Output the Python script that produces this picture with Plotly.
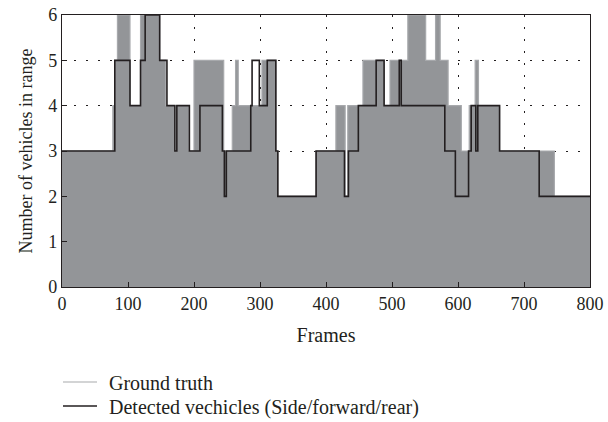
import plotly.graph_objects as go

# Ground truth (step values, value holds from frame until next frame)
gt_frames = [0, 77, 80, 84, 103, 119, 148, 157, 171, 174, 192, 200, 245, 258, 263, 267,
             303, 324, 327, 385, 415, 429, 433, 456, 488, 497, 524, 551, 566, 573,
             585, 605, 617, 626, 631, 663, 746, 800]
gt_vals = [3, 4, 5, 6, 4, 6, 5, 4, 3, 4, 3, 5, 3, 4, 5, 4,
           5, 3, 2, 3, 4, 2, 4, 5, 4, 5, 6, 5, 6, 5,
           4, 3, 4, 5, 4, 3, 2, 2]

# Detected vehicles
det_frames = [0, 80, 103, 119, 126, 148, 159, 171, 174, 193, 209, 243, 246, 249, 286, 288,
              299, 311, 324, 327, 385, 428, 434, 449, 476, 488, 511, 514, 580, 596,
              616, 620, 627, 630, 663, 723, 800]
det_vals = [3, 5, 4, 5, 6, 5, 4, 3, 4, 3, 4, 3, 2, 3, 4, 5,
            4, 5, 3, 2, 3, 2, 3, 4, 5, 4, 5, 4, 3, 2,
            3, 4, 3, 4, 3, 2, 2]

series_names = ["Ground truth", "Detected vechicles (Side/forward/rear)"]

x_ticks = [0, 100, 200, 300, 400, 500, 600, 700, 800]
y_ticks = [0, 1, 2, 3, 4, 5, 6]

FONT = "Liberation Serif"
INK = "#231f20"
GT_LINE = "#a7a9ac"

fig = go.Figure()
fig.add_trace(go.Scatter(
    x=gt_frames, y=gt_vals, mode="lines", line_shape="hv",
    line=dict(color=GT_LINE, width=1.2),
    fill="tozeroy", fillcolor="#939598",
    showlegend=False, name=series_names[0]))
fig.add_trace(go.Scatter(
    x=det_frames, y=det_vals, mode="lines", line_shape="hv",
    line=dict(color=INK, width=1.6),
    showlegend=False, name=series_names[1]))

axis_common = dict(
    showline=True, linecolor=INK, linewidth=1.2, mirror=True,
    ticks="inside", ticklen=5, tickcolor=INK,
    showgrid=True, gridcolor=INK, gridwidth=1, griddash="1.5px,10.5px",
    zeroline=False,
    tickfont=dict(family=FONT, size=18, color=INK),
)

fig.update_xaxes(range=[0, 800], tickvals=x_ticks,
                 title=dict(text="Frames", font=dict(family=FONT, size=20, color=INK), standoff=15),
                 **axis_common)
fig.update_yaxes(range=[0, 6], tickvals=y_ticks,
                 title=dict(text="Number of vehicles in range", font=dict(family=FONT, size=18, color=INK), standoff=10),
                 **axis_common)

# Manual legend below the plot (paper coordinates)
PLOT_L, PLOT_W, PLOT_B, PLOT_H = 62, 528, 287, 272
def px_x(px):
    return (px - PLOT_L) / PLOT_W
def px_y(py):
    return (PLOT_B - py) / PLOT_H

legend_rows = [(series_names[0], GT_LINE, 1.2, 382), (series_names[1], INK, 1.6, 406)]
for name, color, width, py in legend_rows:
    fig.add_shape(type="line", xref="paper", yref="paper",
                  x0=px_x(63), x1=px_x(97), y0=px_y(py), y1=px_y(py),
                  line=dict(color=color, width=width))
    fig.add_annotation(xref="paper", yref="paper", x=px_x(107), y=px_y(py + 1),
                       xanchor="left", yanchor="middle", showarrow=False,
                       text=name, font=dict(family=FONT, size=20, color=INK))

fig.update_layout(
    width=608, height=422,
    margin=dict(l=62, r=18, t=15, b=135, autoexpand=False),
    paper_bgcolor="white", plot_bgcolor="white",
    font=dict(family=FONT, size=18, color=INK),
    showlegend=False,
)

fig.write_html("out.html")
